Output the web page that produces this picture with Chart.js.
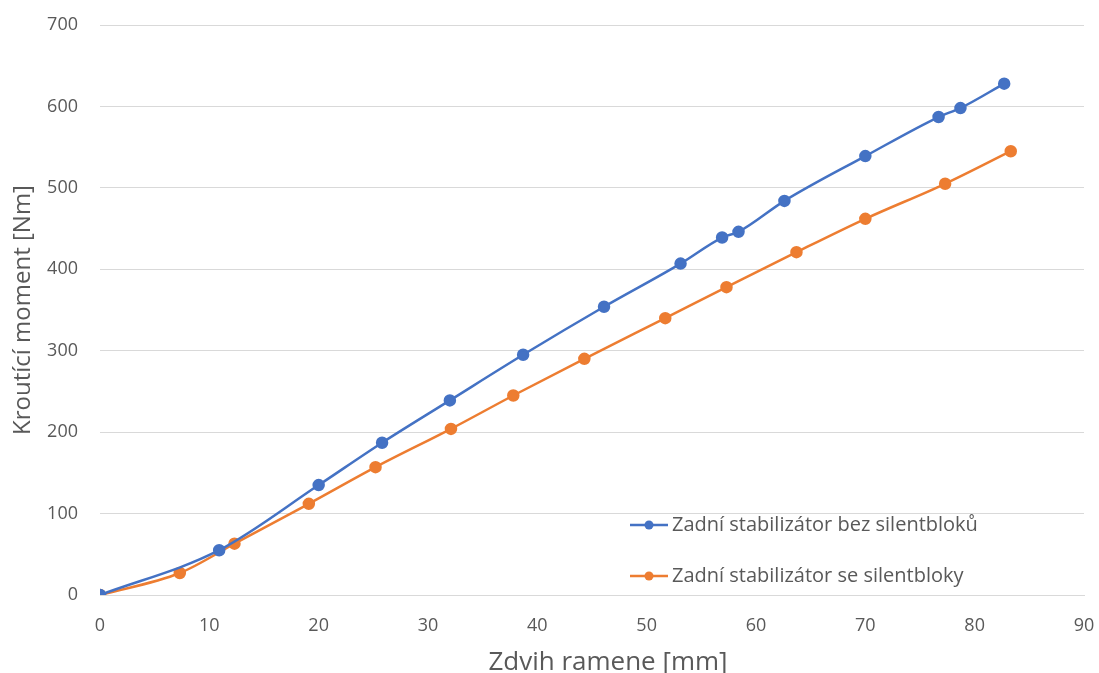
<!DOCTYPE html>
<html><head><meta charset="utf-8">
<script src="https://cdn.jsdelivr.net/npm/chart.js@4"></script>
<style>html,body{margin:0;padding:0;background:#fff}#w{width:1099px;height:673px}</style>
</head><body><div id="w"><canvas id="c"></canvas></div>
<script>
const seriesNames = ["Zadní stabilizátor bez silentbloků", "Zadní stabilizátor se silentbloky"];
const blueX = [0, 10.9, 20.0, 25.8, 32.0, 38.7, 46.1, 53.1, 56.9, 58.4, 62.6, 70.0, 76.7, 78.7, 82.7];
const blueY = [0, 55, 135, 187, 239, 295, 354, 407, 439, 446, 484, 539, 587, 598, 628];
const orangeX = [0, 7.3, 12.3, 19.1, 25.2, 32.1, 37.8, 44.3, 51.7, 57.3, 63.7, 70.0, 77.3, 83.3];
const orangeY = [0, 27, 63, 112, 157, 204, 245, 290, 340, 378, 421, 462, 505, 545];
const xTitle = "Zdvih ramene [mm]";
const yTitle = "Kroutící moment [Nm]";
const colors = ["#4472C4", "#ED7D31"];
const txt = "#595959";
const FONT = "'Open Sans'";

const legendPlugin = {
  id: 'inlegend',
  afterDraw(chart) {
    const ctx = chart.ctx;
    const rows = [[630, 525], [630, 576]];
    ctx.save();
    chart.data.datasets.forEach((ds, i) => {
      const [x, y] = rows[i];
      ctx.strokeStyle = ds.borderColor; ctx.lineWidth = 2.5;
      ctx.beginPath(); ctx.moveTo(x, y); ctx.lineTo(x + 38, y); ctx.stroke();
      ctx.fillStyle = ds.borderColor;
      ctx.beginPath(); ctx.arc(x + 19, y, 4.5, 0, Math.PI * 2); ctx.fill();
      ctx.fillStyle = txt; ctx.font = "20px " + FONT; ctx.textBaseline = "middle";
      ctx.fillText(ds.label, x + 42, y);
    });
    // x axis title
    ctx.font = "26px " + FONT; ctx.textAlign = "center"; ctx.textBaseline = "alphabetic";
    ctx.fillText(xTitle, 608, 670);
    ctx.restore();
  }
};

new Chart(document.getElementById('c'), {
  type: 'line',
  data: {
    datasets: [
      { label: seriesNames[0], data: blueX.map((x, i) => ({x, y: blueY[i]})), borderColor: colors[0], backgroundColor: colors[0], borderWidth: 2.5, pointRadius: 5, tension: 0.3, cubicInterpolationMode: 'monotone' },
      { label: seriesNames[1], data: orangeX.map((x, i) => ({x, y: orangeY[i]})), borderColor: colors[1], backgroundColor: colors[1], borderWidth: 2.5, pointRadius: 5, tension: 0.3, cubicInterpolationMode: 'monotone' }
    ]
  },
  options: {
    responsive: true, maintainAspectRatio: false, animation: false,
    layout: { padding: { top: 25, right: 15, left: 0, bottom: 0 } },
    plugins: { legend: { display: false }, tooltip: { enabled: false } },
    scales: {
      x: {
        type: 'linear', min: 0, max: 90,
        ticks: { stepSize: 10, color: txt, font: { family: FONT, size: 18 }, padding: 20 },
        grid: { display: false, drawTicks: false },
        border: { display: true, color: '#d9d9d9', width: 1 },
        title: { display: false, text: xTitle },
        afterFit(s) { s.height = 78; s.paddingLeft = 0; s.paddingRight = 0; }
      },
      y: {
        min: 0, max: 700,
        ticks: { stepSize: 100, color: txt, font: { family: FONT, size: 18 }, padding: 22 },
        grid: { color: '#d9d9d9', lineWidth: 1, drawTicks: false },
        border: { display: false },
        title: { display: true, text: yTitle, color: txt, font: { family: FONT, size: 24 }, padding: { top: 9, bottom: 0 } },
        afterFit(s) { s.width = 100; s.paddingTop = 0; s.paddingBottom = 0; }
      }
    }
  },
  plugins: [legendPlugin]
});
</script></body></html>
